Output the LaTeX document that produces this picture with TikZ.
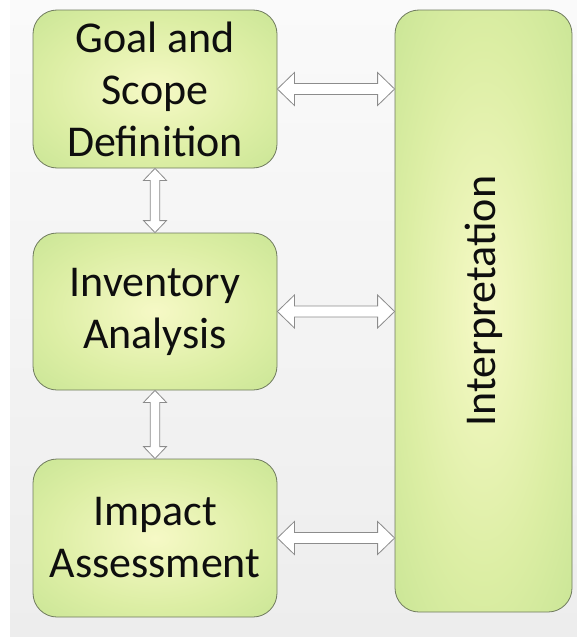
\documentclass[tikz,border=0pt]{standalone}
\usepackage{fontspec}
\setmainfont{Carlito}
\usepackage{tikz}
\usetikzlibrary{calc}
\definecolor{bgtop}{HTML}{FAFAFA}
\definecolor{bgbot}{HTML}{EDEDED}
\definecolor{glowin}{HTML}{F6F9C6}
\definecolor{glowmid}{HTML}{DCEEA4}
\definecolor{glowout}{HTML}{B8DD88}
\definecolor{edge}{HTML}{6F7A5E}
\definecolor{arrowline}{HTML}{8C8C8C}
\definecolor{ink}{HTML}{0E0E0E}
\pgfdeclareradialshading{boxglow}{\pgfpoint{0bp}{0bp}}{color(0bp)=(glowin); color(22bp)=(glowmid); color(50bp)=(glowout); color(100bp)=(glowout)}
\newcommand{\stagefont}{\fontsize{44}{52}\selectfont}
\tikzset{
  stage/.style={draw=edge, line width=0.8pt, rounded corners=24pt, shade, shading=boxglow,
    minimum width=244pt, minimum height=158pt, inner sep=0pt, text=ink, font=\stagefont},
  hollow/.style={draw=arrowline, fill=white, line width=0.8pt, line join=miter},
}
\newcommand{\harrow}[2]{\draw[hollow] let \p1=(#1), \p2=(#2) in
  (\p1) -- (\x1+17pt,\y1+16.5pt) -- (\x1+17pt,\y1+5.5pt) -- (\x2-17pt,\y1+5.5pt)
  -- (\x2-17pt,\y1+16.5pt) -- (\p2) -- (\x2-17pt,\y1-16.5pt) -- (\x2-17pt,\y1-5.5pt)
  -- (\x1+17pt,\y1-5.5pt) -- (\x1+17pt,\y1-16.5pt) -- cycle;}
\newcommand{\varrow}[2]{\draw[hollow] let \p1=(#1), \p2=(#2) in
  (\p1) -- (\x1+11.5pt,\y1-12pt) -- (\x1+4.7pt,\y1-12pt) -- (\x1+4.7pt,\y2+12pt)
  -- (\x1+11.5pt,\y2+12pt) -- (\p2) -- (\x1-11.5pt,\y2+12pt) -- (\x1-4.7pt,\y2+12pt)
  -- (\x1-4.7pt,\y1-12pt) -- (\x1-11.5pt,\y1-12pt) -- cycle;}

\begin{document}
\begin{tikzpicture}[x=1pt,y=-1pt]
  \useasboundingbox (0,0) rectangle (577,637);
  \fill[white] (0,0) rectangle (577,637);
  \shade[top color=bgtop, bottom color=bgbot] (10,0) rectangle (577,637);
  \node[stage, align=center] (goal) at (155,89) {Goal and\\Scope\\Definition};
  \node[stage, align=center, minimum height=157pt] (inv) at (155,311.5) {Inventory\\Analysis};
  \node[stage, align=center] (impact) at (155,538) {Impact\\Assessment};
  \node[stage, minimum width=177pt, minimum height=602pt] (interp) at (483.5,311) {};
  \node[rotate=90, inner sep=0pt, text=ink, font=\stagefont] (interptext) at ($(interp.center)+(0,-10)$) {Interpretation};
  \foreach \X in {goal,inv,impact}
    \harrow{\X.east}{\X.east -| interp.west};
  \foreach \A/\B in {goal/inv,inv/impact}
    \varrow{\A.south}{\B.north};
\end{tikzpicture}
\end{document}
